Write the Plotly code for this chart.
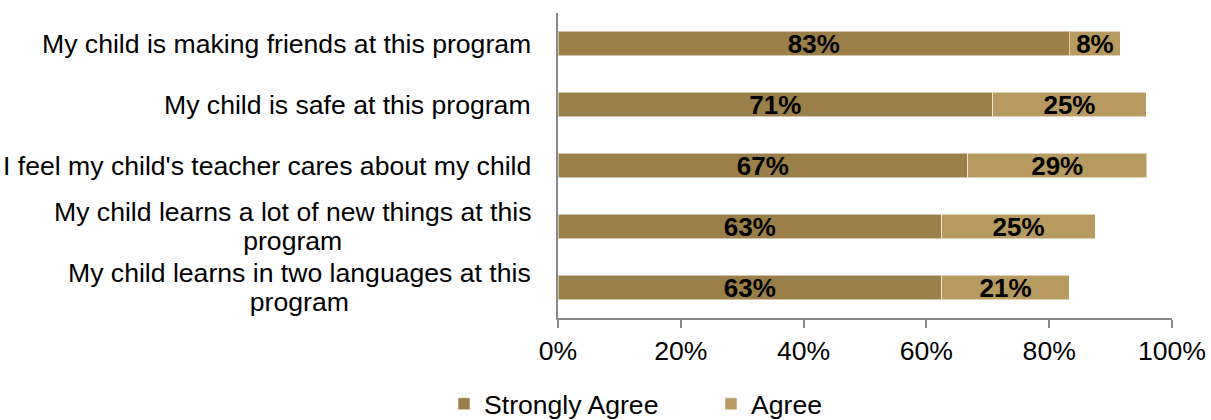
import plotly.graph_objects as go

# Survey statements, top to bottom
statements = [
    "My child is making friends at this program",
    "My child is safe at this program",
    "I feel my child's teacher cares about my child",
    "My child learns a lot of new things at this<br>program",
    "My child learns in two languages at this<br>program",
]
# Share of parents (%) per response
strongly_agree = [83.3, 70.8, 66.7, 62.5, 62.5]
agree = [8.3, 25.0, 29.2, 25.0, 20.8]

x_ticks = [0, 20, 40, 60, 80, 100]
x_tick_labels = ["0%", "20%", "40%", "60%", "80%", "100%"]

FONT = "Liberation Sans, Arial, sans-serif"
SIZE = 26.6
C_STRONG = "#9B7F48"
C_AGREE = "#B69A60"

ids = list(range(len(statements)))

fig = go.Figure()
for name, vals, color in [("Strongly Agree", strongly_agree, C_STRONG),
                          ("Agree", agree, C_AGREE)]:
    fig.add_trace(go.Bar(
        name=name, y=ids, x=vals, orientation="h",
        marker=dict(color=color, line=dict(color="rgba(255,255,255,0.55)", width=1)),
        texttemplate="<b>%{x:.0f}%</b>", textposition="inside",
        insidetextanchor="middle", textangle=0, constraintext="none",
        textfont=dict(family=FONT, size=26, color="black"),
        hoverinfo="skip",
    ))

# Category labels: right-aligned block, lines centred within it
for i, s in enumerate(statements):
    lines = s.split("<br>")
    txt = "<br>".join(f'<span style="font-size:{SIZE}px">{ln}</span>' for ln in lines)
    fig.add_annotation(
        x=-25 / 613, xref="paper", y=i, yref="y",
        text=txt, showarrow=False, xanchor="right", yanchor="middle",
        align="center", font=dict(family=FONT, size=22, color="black"),
    )

fig.update_layout(
    width=1211, height=420,
    margin=dict(l=558, r=39, t=13, b=102, autoexpand=False),
    barmode="stack", bargap=0.6,
    plot_bgcolor="white", paper_bgcolor="white",
    font=dict(family=FONT, size=SIZE, color="black"),
    showlegend=True,
    legend=dict(orientation="h", xref="container", yref="container",
                x=444 / 1211, xanchor="left", y=1 - 404 / 420, yanchor="middle",
                font=dict(family=FONT, size=SIZE, color="black"), itemwidth=30,
                entrywidth=222, entrywidthmode="pixels", traceorder="normal"),
    xaxis=dict(range=[0, 100], tickmode="array", tickvals=x_ticks, ticktext=x_tick_labels,
               showgrid=False, zeroline=False, showline=True, linecolor="#898989",
               linewidth=2, ticks="outside", ticklen=8, tickwidth=2, tickcolor="#898989",
               tickfont=dict(family=FONT, size=SIZE, color="black"), fixedrange=True,
               automargin=False),
    yaxis=dict(range=[len(statements) - 0.5, -0.5], showticklabels=False, showgrid=False,
               zeroline=False, showline=True, linecolor="#898989", linewidth=2,
               ticks="", fixedrange=True, automargin=False),
)

fig.write_html("out.html")
